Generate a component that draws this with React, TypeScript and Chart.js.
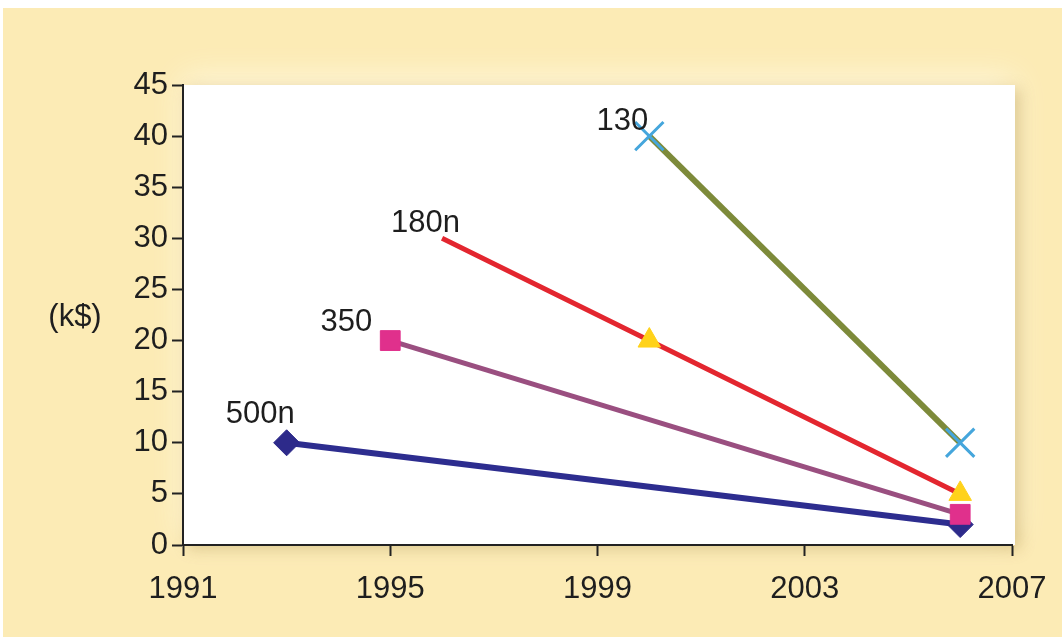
import React, { useEffect, useRef } from "react";
import { Chart, registerables } from "chart.js";

Chart.register(...registerables);

// ---- data ----
const years500 = [1993, 2006];
const values500 = [10, 2];
const years350 = [1995, 2006];
const values350 = [20, 3];
const years180 = [1996, 2000, 2006];
const values180 = [30, 20, 5];
const years130 = [2000, 2006];
const values130 = [40, 10];

const seriesNames = ["130", "180n", "350", "500n"];
const xTickValues = [1991, 1995, 1999, 2003, 2007];
const xTickLabels = ["1991", "1995", "1999", "2003", "2007"];
const yTickValues = [0, 5, 10, 15, 20, 25, 30, 35, 40, 45];
const yTickLabels = ["0", "5", "10", "15", "20", "25", "30", "35", "40", "45"];
const yAxisTitle = "(k$)";

// label offsets (style) relative to first point: [dx, dy] for right-aligned baseline text
const labelOffsets: number[][] = [
  [-1, -6],
  [18, -6],
  [-18, -10],
  [8, -20],
];

const FONT = "'Liberation Sans', Arial, Helvetica, sans-serif";

const toPts = (xs: number[], ys: number[]) => xs.map((x, i) => ({ x, y: ys[i] }));

export default function App() {
  const ref = useRef<HTMLCanvasElement | null>(null);

  useEffect(() => {
    document.body.style.margin = "0";
    const canvas = ref.current!;
    const bgPlugin = {
      id: "bg",
      beforeDraw(chart: any) {
        const { ctx, chartArea } = chart;
        ctx.save();
        ctx.fillStyle = "#ffffff";
        ctx.fillRect(0, 0, chart.width, chart.height);
        ctx.fillStyle = "#fcebb5";
        ctx.fillRect(3, 8, chart.width - 3, chart.height - 8);
        const w = chartArea.right - chartArea.left + 3;
        const h = chartArea.bottom - chartArea.top;
        // soft light halo
        ctx.shadowColor = "rgba(255,248,225,0.9)";
        ctx.shadowBlur = 30;
        ctx.shadowOffsetX = 0;
        ctx.shadowOffsetY = -8;
        ctx.fillStyle = "#ffffff";
        ctx.fillRect(chartArea.left, chartArea.top, w, h);
        // drop shadow
        ctx.shadowColor = "rgba(150,110,20,0.3)";
        ctx.shadowBlur = 14;
        ctx.shadowOffsetX = 5;
        ctx.shadowOffsetY = 4;
        ctx.fillRect(chartArea.left, chartArea.top, w, h);
        ctx.restore();
      },
    };
    const textPlugin = {
      id: "texts",
      afterDatasetsDraw(chart: any) {
        const { ctx, chartArea } = chart;
        ctx.save();
        ctx.font = `31px ${FONT}`;
        ctx.fillStyle = "#1e1e1e";
        ctx.textAlign = "center";
        ctx.textBaseline = "middle";
        ctx.fillText(yAxisTitle, 75, (chartArea.top + chartArea.bottom) / 2 + 2);
        ctx.textAlign = "right";
        ctx.textBaseline = "alphabetic";
        chart.data.datasets.forEach((ds: any, i: number) => {
          const meta = chart.getDatasetMeta(i);
          const p = meta.data[0];
          const off = labelOffsets[i];
          ctx.fillText(ds.label, p.x + off[0], p.y + off[1]);
        });
        ctx.restore();
      },
    };

    const chart = new Chart(canvas, {
      type: "scatter",
      data: {
        datasets: [
          {
            label: seriesNames[0],
            data: toPts(years130, values130),
            showLine: true,
            borderColor: "#7d8a3a",
            borderWidth: 6,
            pointStyle: "crossRot",
            pointRadius: 20,
            pointBorderColor: "#45a6dc",
            pointBorderWidth: 3,
            pointBackgroundColor: "#45a6dc",
          },
          {
            label: seriesNames[1],
            data: toPts(years180, values180),
            showLine: true,
            borderColor: "#e3262f",
            borderWidth: 5,
            pointStyle: "triangle",
            pointRadius: [0, 13, 13],
            pointBorderColor: "#ffd21a",
            pointBorderWidth: 1,
            pointBackgroundColor: "#ffd21a",
          },
          {
            label: seriesNames[2],
            data: toPts(years350, values350),
            showLine: true,
            borderColor: "#9a4f80",
            borderWidth: 5,
            pointStyle: "rect",
            pointRadius: 14,
            pointBorderColor: "#e0308c",
            pointBorderWidth: 1,
            pointBackgroundColor: "#e0308c",
          },
          {
            label: seriesNames[3],
            data: toPts(years500, values500),
            showLine: true,
            borderColor: "#2d2d8f",
            borderWidth: 6,
            pointStyle: "rectRot",
            pointRadius: 13,
            pointBorderColor: "#2d2a8a",
            pointBorderWidth: 1,
            pointBackgroundColor: "#2d2a8a",
          },
        ],
      },
      options: {
        animation: false,
        responsive: false,
        maintainAspectRatio: false,
        events: [],
        layout: { padding: { left: 0, top: 85, right: 50, bottom: 0 } },
        plugins: { legend: { display: false }, tooltip: { enabled: false } },
        scales: {
          x: {
            type: "linear",
            min: 1991,
            max: 2007,
            afterBuildTicks: (s: any) => {
              s.ticks = xTickValues.map((v) => ({ value: v }));
            },
            afterFit: (s: any) => {
              s.height = 92;
            },
            ticks: {
              callback: (v: any) => xTickLabels[xTickValues.indexOf(Number(v))] ?? "",
              font: { family: FONT, size: 31 },
              color: "#1e1e1e",
              padding: 15,
              maxRotation: 0,
              autoSkip: false,
            },
            grid: { drawOnChartArea: false, drawTicks: true, tickLength: 11, tickColor: "#222", tickWidth: 2 },
            border: { display: true, color: "#222", width: 2 },
          },
          y: {
            type: "linear",
            min: 0,
            max: 45,
            afterBuildTicks: (s: any) => {
              s.ticks = yTickValues.map((v) => ({ value: v }));
            },
            afterFit: (s: any) => {
              s.width = 183;
            },
            ticks: {
              callback: (v: any) => yTickLabels[yTickValues.indexOf(Number(v))] ?? "",
              font: { family: FONT, size: 31 },
              color: "#1e1e1e",
              padding: 4,
              autoSkip: false,
            },
            grid: { drawOnChartArea: false, drawTicks: true, tickLength: 11, tickColor: "#222", tickWidth: 2 },
            border: { display: true, color: "#222", width: 2 },
          },
        },
      },
      plugins: [bgPlugin, textPlugin],
    } as any);
    return () => chart.destroy();
  }, []);

  return (
    <div style={{ width: 1062, height: 637 }}>
      <canvas ref={ref} width={1062} height={637} style={{ display: "block", width: 1062, height: 637 }} />
    </div>
  );
}
